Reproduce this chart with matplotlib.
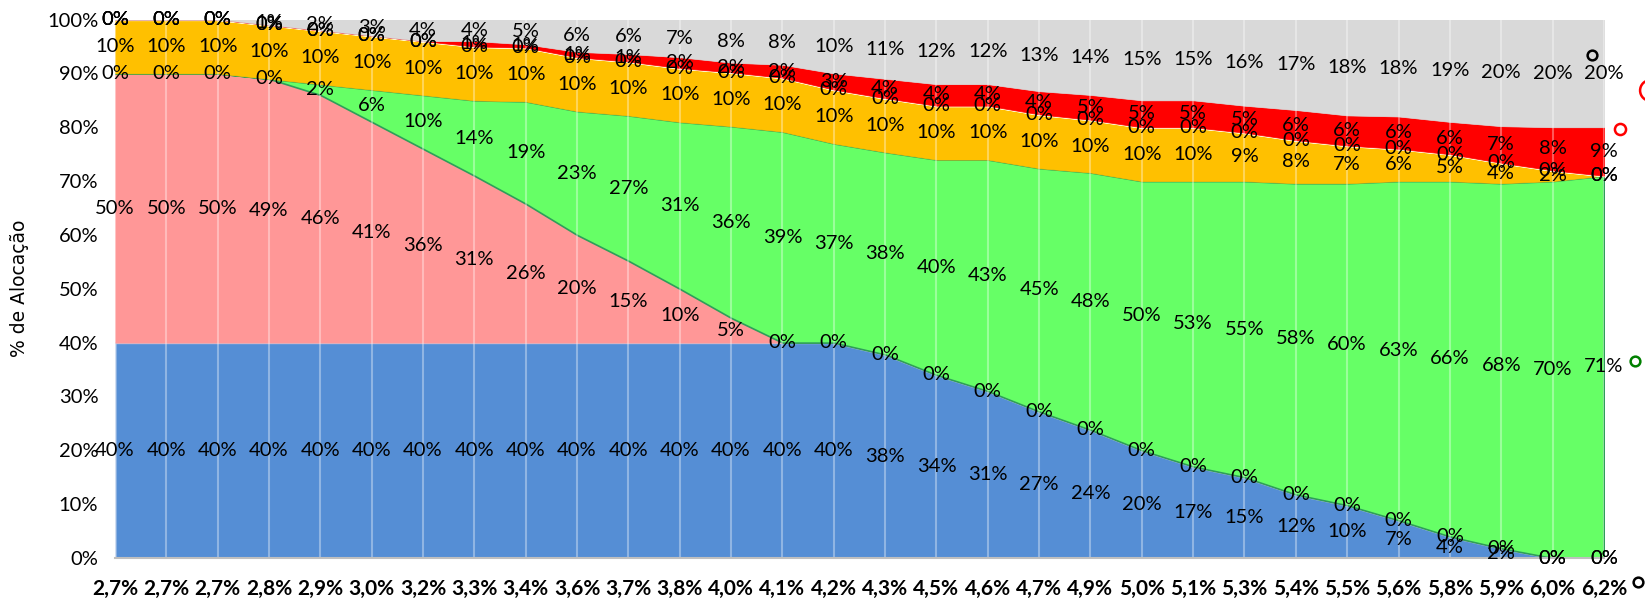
import numpy as np
import matplotlib
matplotlib.use("Agg")
import matplotlib.pyplot as plt

plt.rcParams['font.family'] = ['Lato', 'DejaVu Sans']

x_labels = ["2,7%", "2,7%", "2,7%", "2,8%", "2,9%", "3,0%", "3,2%", "3,3%", "3,4%", "3,6%",
            "3,7%", "3,8%", "4,0%", "4,1%", "4,2%", "4,3%", "4,5%", "4,6%", "4,7%", "4,9%",
            "5,0%", "5,1%", "5,3%", "5,4%", "5,5%", "5,6%", "5,8%", "5,9%", "6,0%", "6,2%"]

# allocation per series (%), bottom to top
blue = [40, 40, 40, 40, 40, 40, 40, 40, 40, 40, 40, 40, 40, 40, 40, 37.8, 34, 31, 27.2, 23.8,
        20, 17, 15, 11.8, 9.8, 7, 4, 1.8, 0, 0]
pink = [50, 50, 50, 49, 46, 41, 36, 31, 25.8, 20, 15.2, 10, 4.6, 0, 0, 0, 0, 0, 0, 0,
        0, 0, 0, 0, 0, 0, 0, 0, 0, 0]
green = [0, 0, 0, 0, 2, 6, 10, 14, 19, 23, 27, 31, 35.6, 39.2, 37, 37.6, 40, 43, 45.2, 47.8,
         50, 53, 55, 57.8, 59.8, 63, 66, 67.8, 70, 71]
orange = [10, 10, 10, 10, 10, 10, 10, 10, 10, 10, 10, 10, 10, 10, 10, 10, 10, 10, 10, 9.8,
          10, 10, 9, 8, 7, 6, 5, 3.8, 2, 0]
cream = [0] * 30
red = [0, 0, 0, 0, 0, 0, 0, 1, 0.6, 1, 1.4, 2, 1.8, 2.4, 3, 3.6, 4, 4, 4.3, 4.6,
       5, 5, 5, 5.6, 5.6, 6, 6, 6.8, 8, 9]
gray = [0, 0, 0, 1, 2, 3, 4, 4, 4.6, 6, 6.4, 7, 8, 8.4, 10, 11, 12, 12, 13.3, 14,
        15, 15, 16, 16.8, 17.8, 18, 19, 19.8, 20, 20]

series = [blue, pink, green, orange, cream, red, gray]
colors = ['#558ED5', '#FF9797', '#66FF66', '#FFC000', '#FFF2A8', '#FF0000', '#D9D9D9']
edges = ['#B9CDEB', '#FF9797', '#2E9E5A', '#FFC000', '#FFF6C8', '#FF0000', '#D9D9D9']
edge_w = [1.5, 0.5, 1.2, 0.5, 1.5, 0.5, 0.5]

# stray marker points sitting at the right edge of the chart
odd_x = [28.76, 29.9, 29.31, 29.6, 29.66]
odd_y = [93.5, 87, 79.6, 36.6, -4.5]
odd_c = ['black', 'red', 'red', 'green', 'black']
odd_s = [7, 15, 8, 7, 7]

x = np.arange(len(x_labels))

fig = plt.figure(figsize=(16.45, 6.03), dpi=100)
ax = fig.add_axes([0.0699, 0.0746, 0.9051, 0.893])

bottom = np.zeros(len(x))
for vals, c, ec, lw in zip(series, colors, edges, edge_w):
    vals = np.array(vals, dtype=float)
    ax.fill_between(x, bottom, bottom + vals, facecolor=c, edgecolor=ec, linewidth=lw, zorder=1)
    for i in range(len(x)):
        ax.text(x[i], bottom[i] + vals[i] / 2, f"{int(np.floor(vals[i] + 0.5))}%",
                ha='center', va='center', fontsize=14.5, color='black', zorder=5)
    bottom = bottom + vals

ax.vlines(x, 0, 100, color='white', alpha=0.35, linewidth=1.5, zorder=2)

for px, py, pc, ps in zip(odd_x, odd_y, odd_c, odd_s):
    ax.plot([px], [py], marker='o', markersize=ps, markerfacecolor='none',
            markeredgecolor=pc, markeredgewidth=1.8, clip_on=False, zorder=6)

ax.set_xlim(0, len(x) - 1)
ax.set_ylim(0, 100)
ax.set_xticks(x)
ax.set_xticklabels(x_labels, fontsize=15, fontweight='bold')
ax.set_yticks(np.arange(0, 101, 10))
ax.set_yticklabels([f"{v}%" for v in range(0, 101, 10)], fontsize=14.5)
ax.tick_params(axis='both', length=0)
ax.tick_params(axis='x', pad=15)
ax.tick_params(axis='y', pad=12)

for s in ['top', 'right', 'left']:
    ax.spines[s].set_visible(False)
ax.spines['bottom'].set_color('#BFBFBF')
ax.spines['bottom'].set_linewidth(1.5)
ax.spines['bottom'].set_zorder(3)

ax.set_ylabel("% de Alocação", fontsize=13.5, family=['DejaVu Sans'])
ax.yaxis.set_label_coords(-0.058, 0.5)

fig.savefig("out.png", dpi=100)
